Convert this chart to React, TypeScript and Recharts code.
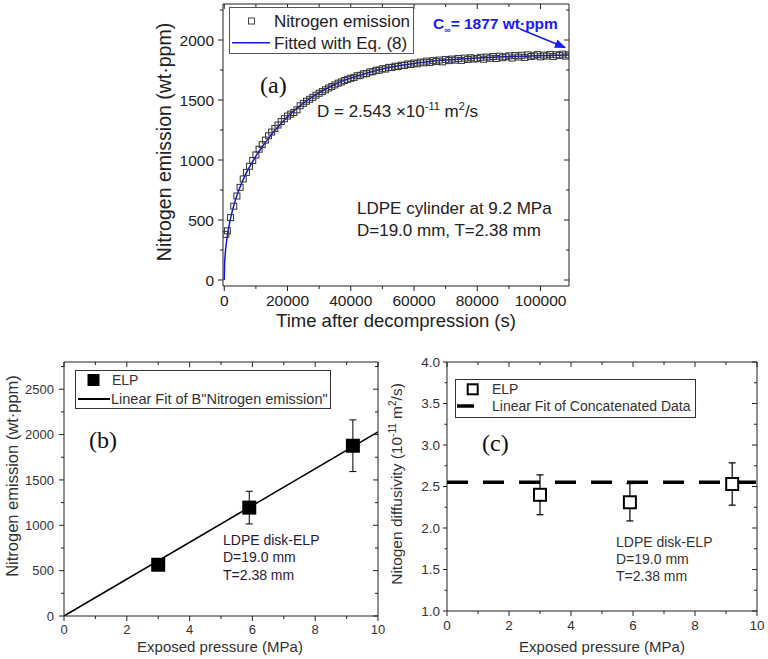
import React from 'react';
import { ComposedChart, Scatter, Line, XAxis, YAxis, ErrorBar } from 'recharts';

// ---------- Panel (a): nitrogen emission vs time ----------
const emissionTimeKs = [
  0.5, 1, 2, 3, 4, 5, 6, 7, 8, 9, 10,
  11, 12, 13, 14, 15, 16, 17, 18, 19, 20,
  21, 22, 23, 24, 25, 26, 27, 28, 29, 30,
  31, 32, 33, 34, 35, 36, 37, 38, 39, 40,
  41, 42, 43, 44, 45, 46, 47, 48, 49, 50,
  51, 52, 53, 54, 55, 56, 57, 58, 59, 60,
  61, 62, 63, 64, 65, 66, 67, 68, 69, 70,
  71, 72, 73, 74, 75, 76, 77, 78, 79, 80,
  81, 82, 83, 84, 85, 86, 87, 88, 89, 90,
  91, 92, 93, 94, 95, 96, 97, 98, 99, 100,
  101, 102, 103, 104, 105, 106, 107, 108, 109,
];
const emissionPpm = [
  380, 410, 520, 615, 700, 772, 842, 897, 948, 996, 1042,
  1090, 1128, 1166, 1202, 1233, 1263, 1292, 1320, 1344, 1366,
  1382, 1396, 1418, 1452, 1472, 1490, 1506, 1522, 1540, 1556,
  1570, 1585, 1600, 1612, 1626, 1640, 1650, 1662, 1672, 1681,
  1688, 1702, 1706, 1718, 1720, 1734, 1736, 1748, 1748, 1760,
  1758, 1772, 1770, 1782, 1779, 1790, 1788, 1800, 1796, 1808,
  1802, 1816, 1810, 1824, 1812, 1828, 1820, 1833, 1818, 1838,
  1828, 1841, 1832, 1846, 1830, 1849, 1838, 1852, 1842, 1845,
  1856, 1840, 1858, 1848, 1862, 1846, 1865, 1852, 1860, 1868,
  1850, 1870, 1858, 1873, 1855, 1876, 1862, 1868, 1878, 1860,
  1874, 1866, 1880, 1862, 1877, 1870, 1882, 1866, 1876,
];
const fitTimeS = [
  0, 100, 300, 600, 1000, 1500, 2000, 3000, 4000, 5000, 6000, 7000, 8000,
  10000, 12000, 14000, 16000, 18000, 20000, 23000, 26000, 30000, 34000,
  38000, 42000, 46000, 50000, 55000, 60000, 65000, 70000, 75000, 80000,
  85000, 90000, 95000, 100000, 105000, 109000,
];
const fitPpm = [
  0, 130, 215, 295, 375, 450, 515, 620, 705, 775, 837, 892, 942,
  1032, 1110, 1180, 1245, 1305, 1360, 1432, 1492, 1560, 1617,
  1664, 1700, 1731, 1758, 1785, 1805, 1820, 1833, 1842, 1850,
  1856, 1861, 1865, 1869, 1872, 1874,
];
const aXMajor = [0, 20000, 40000, 60000, 80000, 100000];
const aXTicks = [0, 10000, 20000, 30000, 40000, 50000, 60000, 70000, 80000, 90000, 100000];
const aYMajor = [0, 500, 1000, 1500, 2000];
const aYTicks = [0, 250, 500, 750, 1000, 1250, 1500, 1750, 2000, 2250];

// ---------- Panel (b): emission vs pressure ----------
const pressureMPa = [3.0, 5.9, 9.2];
const elpEmission = [565, 1195, 1877];
const elpEmissionErr = [60, 180, 285];
const linFitPressure = [0, 10];
const linFitEmission = [0, 2030];
const bXMajor = [0, 2, 4, 6, 8, 10];
const bXTicks = [0, 1, 2, 3, 4, 5, 6, 7, 8, 9, 10];
const bYMajor = [0, 500, 1000, 1500, 2000, 2500];
const bYTicks = [0, 250, 500, 750, 1000, 1250, 1500, 1750, 2000, 2250, 2500, 2750];

// ---------- Panel (c): diffusivity vs pressure ----------
const elpDiffusivity = [2.40, 2.31, 2.53];
const elpDiffusivityErr = [0.24, 0.225, 0.255];
const concatFitPressure = [0, 10];
const concatFitDiffusivity = [2.55, 2.55];
const cYMajor = [1.0, 1.5, 2.0, 2.5, 3.0, 3.5, 4.0];
const cYTicks = [1.0, 1.25, 1.5, 1.75, 2.0, 2.25, 2.5, 2.75, 3.0, 3.25, 3.5, 3.75, 4.0];

const emissionRows = emissionTimeKs.map((t, i) => ({ x: t * 1000, y: emissionPpm[i] }));
const fitRows = fitTimeS.map((t, i) => ({ x: t, y: fitPpm[i] }));
const elpRows = pressureMPa.map((p, i) => ({ x: p, y: elpEmission[i], err: elpEmissionErr[i] }));
const linFitRows = linFitPressure.map((p, i) => ({ x: p, y: linFitEmission[i] }));
const diffRows = pressureMPa.map((p, i) => ({ x: p, y: elpDiffusivity[i], err: elpDiffusivityErr[i] }));
const concatRows = concatFitPressure.map((p, i) => ({ x: p, y: concatFitDiffusivity[i] }));

const SANS = '"Liberation Sans", Arial, Helvetica, sans-serif';
const SERIF = '"Liberation Serif", "Times New Roman", serif';

type Side = 'bottom' | 'top' | 'left' | 'right';
function makeTick(
  side: Side,
  majors: number[],
  len: number,
  minorLen: number,
  fontSize: number,
  gap: number,
  fmt: (v: number) => string,
  showLabel: boolean,
  color: string,
) {
  return (p: any) => {
    const { x, y, payload } = p;
    const v = payload.value as number;
    const major = majors.some((m) => Math.abs(m - v) < 1e-6);
    const L = major ? len : minorLen;
    let line: any = null;
    let text: any = null;
    if (side === 'bottom') {
      line = <line x1={x} y1={y} x2={x} y2={y + L} stroke="#222" strokeWidth={1} />;
      if (showLabel && major)
        text = (
          <text x={x} y={y + len + gap + fontSize * 0.72} textAnchor="middle" fontSize={fontSize} fontFamily={SANS} fill={color}>
            {fmt(v)}
          </text>
        );
    } else if (side === 'top') {
      line = <line x1={x} y1={y} x2={x} y2={y + L} stroke="#222" strokeWidth={1} />;
    } else if (side === 'left') {
      line = <line x1={x} y1={y} x2={x - L} y2={y} stroke="#222" strokeWidth={1} />;
      if (showLabel && major)
        text = (
          <text x={x - len - gap} y={y + fontSize * 0.36} textAnchor="end" fontSize={fontSize} fontFamily={SANS} fill={color}>
            {fmt(v)}
          </text>
        );
    } else {
      line = <line x1={x} y1={y} x2={x - L} y2={y} stroke="#222" strokeWidth={1} />;
    }
    return (
      <g>
        {line}
        {text}
      </g>
    );
  };
}

const intFmt = (v: number) => String(Math.round(v));
const oneDec = (v: number) => v.toFixed(1);

const axisCommon = {
  tickLine: false,
  tickSize: 0,
  tickMargin: 0,
  interval: 0 as const,
  axisLine: { stroke: '#222', strokeWidth: 1 },
  allowDataOverflow: true,
  type: 'number' as const,
};

function PanelA() {
  const xd: [number, number] = [-400, 109000];
  const yd: [number, number] = [-50, 2300];
  return (
    <ComposedChart width={440} height={340} margin={{ top: 3, right: 20, bottom: 0, left: 0 }}>
      <XAxis {...axisCommon} xAxisId="b" dataKey="x" domain={xd} ticks={aXTicks} height={54}
        tick={makeTick('bottom', aXMajor, 5, 3, 15.5, 4, intFmt, true, '#222')} />
      <XAxis {...axisCommon} xAxisId="t" orientation="top" dataKey="x" domain={xd} ticks={aXTicks} height={1}
        tick={makeTick('top', aXMajor, 5, 3, 15, 4, intFmt, false, '#222')} />
      <YAxis {...axisCommon} yAxisId="l" dataKey="y" domain={yd} ticks={aYTicks} width={73}
        tick={makeTick('left', aYMajor, 5, 3, 15.5, 4, intFmt, true, '#222')} />
      <YAxis {...axisCommon} yAxisId="r" orientation="right" dataKey="y" domain={yd} ticks={aYTicks} width={1}
        tick={makeTick('right', aYMajor, 5, 3, 15, 4, intFmt, false, '#222')} />
      <Scatter xAxisId="b" yAxisId="l" data={emissionRows} dataKey="y" isAnimationActive={false}
        shape={(p: any) => (
          <rect x={p.cx - 3} y={p.cy - 3} width={6} height={6} fill="none" stroke="#333" strokeWidth={1} />
        )} />
      <Line xAxisId="b" yAxisId="l" data={fitRows} dataKey="y" type="monotone" stroke="#1414e6"
        strokeWidth={1.5} dot={false} activeDot={false} isAnimationActive={false} />
    </ComposedChart>
  );
}

function PanelB() {
  const xd: [number, number] = [0, 10];
  const yd: [number, number] = [0, 2800];
  return (
    <ComposedChart width={390} height={329} margin={{ top: 31, right: 11, bottom: 0, left: 0 }}>
      <XAxis {...axisCommon} xAxisId="b" dataKey="x" domain={xd} ticks={bXTicks} height={43}
        tick={makeTick('bottom', bXMajor, 5, 3, 13, 4, intFmt, true, '#333')} />
      <XAxis {...axisCommon} xAxisId="t" orientation="top" dataKey="x" domain={xd} ticks={bXTicks} height={1}
        tick={makeTick('top', bXMajor, 5, 3, 13, 4, intFmt, false, '#333')} />
      <YAxis {...axisCommon} yAxisId="l" dataKey="y" domain={yd} ticks={bYTicks} width={64}
        tick={makeTick('left', bYMajor, 5, 3, 13, 5, intFmt, true, '#333')} />
      <YAxis {...axisCommon} yAxisId="r" orientation="right" dataKey="y" domain={yd} ticks={bYTicks} width={1}
        tick={makeTick('right', bYMajor, 5, 3, 13, 4, intFmt, false, '#333')} />
      <Line xAxisId="b" yAxisId="l" data={linFitRows} dataKey="y" type="linear" stroke="#000"
        strokeWidth={1.6} dot={false} activeDot={false} isAnimationActive={false} />
      <Scatter xAxisId="b" yAxisId="l" data={elpRows} dataKey="y" isAnimationActive={false}
        shape={(p: any) => <rect x={p.cx - 7} y={p.cy - 7} width={14} height={14} fill="#000" />}>
        <ErrorBar dataKey="err" direction="y" width={3.5} stroke="#000" strokeWidth={1} />
      </Scatter>
    </ComposedChart>
  );
}

function PanelC() {
  const xd: [number, number] = [0, 10];
  const yd: [number, number] = [1, 4];
  return (
    <ComposedChart width={378} height={329} margin={{ top: 31, right: 10, bottom: 0, left: 0 }}>
      <XAxis {...axisCommon} xAxisId="b" dataKey="x" domain={xd} ticks={bXTicks} height={48}
        tick={makeTick('bottom', bXMajor, 5, 3, 13.5, 4, intFmt, true, '#333')} />
      <XAxis {...axisCommon} xAxisId="t" orientation="top" dataKey="x" domain={xd} ticks={bXTicks} height={1}
        tick={makeTick('top', bXMajor, 5, 3, 13, 4, intFmt, false, '#333')} />
      <YAxis {...axisCommon} yAxisId="l" dataKey="y" domain={yd} ticks={cYTicks} width={57}
        tick={makeTick('left', cYMajor, 4, 2.5, 13.5, 3, oneDec, true, '#333')} />
      <YAxis {...axisCommon} yAxisId="r" orientation="right" dataKey="y" domain={yd} ticks={cYTicks} width={1}
        tick={makeTick('right', cYMajor, 5, 3, 13, 4, oneDec, false, '#333')} />
      <Line xAxisId="b" yAxisId="l" data={concatRows} dataKey="y" type="linear" stroke="#000"
        strokeWidth={3.5} strokeDasharray="21 15" dot={false} activeDot={false} isAnimationActive={false} />
      <Scatter xAxisId="b" yAxisId="l" data={diffRows} dataKey="y" isAnimationActive={false}
        shape={(p: any) => (
          <rect x={p.cx - 6} y={p.cy - 6} width={12} height={12} fill="#fff" stroke="#000" strokeWidth={2} />
        )}>
        <ErrorBar dataKey="err" direction="y" width={3.5} stroke="#000" strokeWidth={1.2} />
      </Scatter>
    </ComposedChart>
  );
}

function Overlay() {
  return (
    <svg width={768} height={659} style={{ position: 'absolute', left: 0, top: 0, pointerEvents: 'none' }}>
      {/* ---- Panel (a) ---- */}
      <rect x={229.5} y={7.5} width={184} height={46} fill="#fff" stroke="#555" strokeWidth={1} />
      <rect x={248.5} y={18} width={6} height={6} fill="none" stroke="#444" strokeWidth={1} />
      <text x={274} y={26.5} fontSize={17} fontFamily={SANS} fill="#222">Nitrogen emission</text>
      <line x1={232} y1={42.7} x2={270} y2={42.7} stroke="#1414e6" strokeWidth={1.5} />
      <text x={274} y={48.7} fontSize={17} fontFamily={SANS} fill="#222">Fitted with Eq. (8)</text>
      <text x={260} y={93} fontSize={24} fontFamily={SERIF} fill="#111">(a)</text>
      <text x={317} y={117} fontSize={17} fontFamily={SANS} fill="#222">
        D = 2.543 ×10<tspan dy={-7} fontSize={11}>-11</tspan>
        <tspan dy={7}> m</tspan>
        <tspan dy={-7} fontSize={11}>2</tspan>
        <tspan dy={7}>/s</tspan>
      </text>
      <text x={433} y={28.5} fontSize={15.5} fontWeight="bold" fontFamily={SANS} fill="#1a1aff">
        C<tspan dy={4} fontSize={9}>∞</tspan>
        <tspan dy={-4}>= 1877 wt·ppm</tspan>
      </text>
      <defs>
        <marker id="arrowBlue" viewBox="0 0 10 10" refX="9" refY="5" markerWidth="7" markerHeight="7" orient="auto">
          <path d="M0,1 L10,5 L0,9 z" fill="#1a1aff" />
        </marker>
      </defs>
      <line x1={520} y1={29} x2={565} y2={47.5} stroke="#1a1aff" strokeWidth={1.6} markerEnd="url(#arrowBlue)" />
      <text x={357} y={214} fontSize={17} fontFamily={SANS} fill="#222">LDPE cylinder at 9.2 MPa</text>
      <text x={357} y={236} fontSize={17} fontFamily={SANS} fill="#222">D=19.0 mm, T=2.38 mm</text>
      <text x={396} y={326.5} fontSize={18.5} fontFamily={SANS} fill="#222" textAnchor="middle">Time after decompression (s)</text>
      <text x={0} y={0} fontSize={19.5} fontFamily={SANS} fill="#222" textAnchor="middle"
        transform="translate(171,142) rotate(-90)">Nitrogen emission (wt·ppm)</text>

      {/* ---- Panel (b) ---- */}
      <rect x={75.5} y={370.5} width={255} height={38} fill="#fff" stroke="#333" strokeWidth={1} />
      <rect x={87.5} y={374} width={12} height={12} fill="#000" />
      <text x={112} y={385} fontSize={14} fontFamily={SANS} fill="#333">ELP</text>
      <line x1={78} y1={399} x2={110} y2={399} stroke="#000" strokeWidth={2} />
      <text x={111} y={404} fontSize={14.5} fontFamily={SANS} fill="#333">Linear Fit of B"Nitrogen emission"</text>
      <text x={89} y={448} fontSize={24} fontFamily={SERIF} fill="#111">(b)</text>
      <text x={223} y={545} fontSize={14} fontFamily={SANS} fill="#2a1a3a">LDPE disk-ELP</text>
      <text x={223} y={562.3} fontSize={14} fontFamily={SANS} fill="#2a1a3a">D=19.0 mm</text>
      <text x={223} y={580} fontSize={14} fontFamily={SANS} fill="#2a1a3a">T=2.38 mm</text>
      <text x={220} y={652} fontSize={15} fontFamily={SANS} fill="#333" textAnchor="middle">Exposed pressure (MPa)</text>
      <text x={0} y={0} fontSize={16.5} fontFamily={SANS} fill="#333" textAnchor="middle"
        transform="translate(17.5,476) rotate(-90)">Nitrogen emission (wt·ppm)</text>

      {/* ---- Panel (c) ---- */}
      <rect x={455.5} y={379.5} width={240} height={38} fill="#fff" stroke="#333" strokeWidth={1} />
      <rect x={467.7} y={384.3} width={10} height={10} fill="#fff" stroke="#000" strokeWidth={2} />
      <text x={492} y={394} fontSize={14} fontFamily={SANS} fill="#333">ELP</text>
      <line x1={457} y1={406} x2={474} y2={406} stroke="#000" strokeWidth={3.5} />
      <text x={492} y={411} fontSize={14} fontFamily={SANS} fill="#333">Linear Fit of Concatenated Data</text>
      <text x={482} y={451} fontSize={24} fontFamily={SERIF} fill="#111">(c)</text>
      <text x={616} y={546.7} fontSize={14} fontFamily={SANS} fill="#333">LDPE disk-ELP</text>
      <text x={616} y={563.7} fontSize={14} fontFamily={SANS} fill="#333">D=19.0 mm</text>
      <text x={616} y={581} fontSize={14} fontFamily={SANS} fill="#333">T=2.38 mm</text>
      <text x={602} y={652} fontSize={15} fontFamily={SANS} fill="#333" textAnchor="middle">Exposed pressure (MPa)</text>
      <text x={0} y={0} fontSize={15.5} fontFamily={SANS} fill="#333" textAnchor="middle"
        transform="translate(402,484) rotate(-90)">
        Nitogen diffusivity (10<tspan dy={-6} fontSize={10}>-11</tspan>
        <tspan dy={6}> m</tspan>
        <tspan dy={-6} fontSize={10}>2</tspan>
        <tspan dy={6}>/s)</tspan>
      </text>
    </svg>
  );
}

export default function App() {
  return (
    <div style={{ position: 'absolute', left: 0, top: 0, width: 768, height: 659, background: '#fff', overflow: 'hidden' }}>
      <div style={{ position: 'absolute', left: 150, top: 0 }}>
        <PanelA />
      </div>
      <div style={{ position: 'absolute', left: 0, top: 330 }}>
        <PanelB />
      </div>
      <div style={{ position: 'absolute', left: 390, top: 330 }}>
        <PanelC />
      </div>
      <Overlay />
    </div>
  );
}
